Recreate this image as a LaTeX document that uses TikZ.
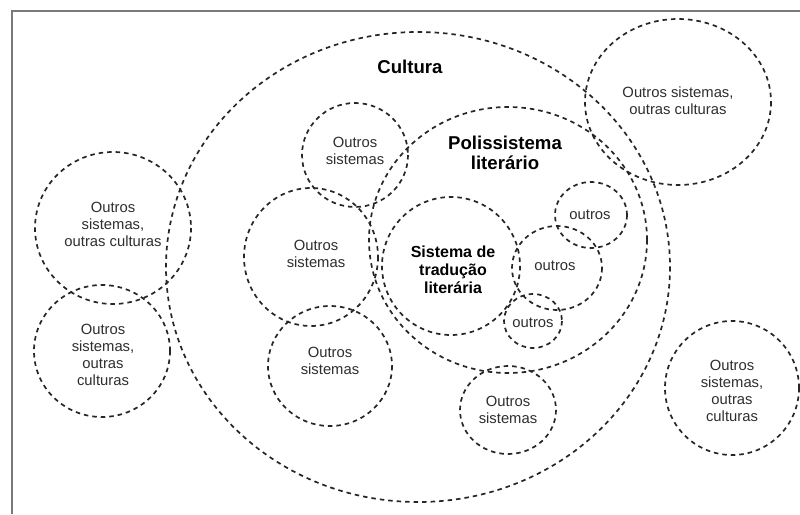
\documentclass[tikz,border=0pt]{standalone}
\usepackage{fontspec}
\setmainfont{Liberation Sans}
\definecolor{txt}{HTML}{2E2E2E}
\definecolor{framec}{HTML}{7A7A7A}
\tikzset{
  dcirc/.style={draw=black!85, line width=1.7pt, dash pattern=on 4.5pt off 4pt},
  lbl/.style={align=center, inner sep=0pt, text=txt, font=\fontsize{14.8}{17}\selectfont},
  blbl/.style={align=center, inner sep=0pt, text=black, font=\bfseries\fontsize{16}{18}\selectfont},
  big/.style={align=center, inner sep=0pt, text=black, font=\bfseries\fontsize{18.6}{20}\selectfont}
}
\begin{document}
\begin{tikzpicture}[x=1pt,y=-1pt]
\useasboundingbox (0,0) rectangle (800,514);
\fill[white] (0,0) rectangle (800,514);
% frame (top and left edges visible)
\draw[framec, line width=2pt] (11.5,514) -- (11.5,10.5) -- (800,10.5);

% circles
\draw[dcirc] (418,267) ellipse [x radius=252, y radius=235];   % Cultura
\draw[dcirc] (508,240) ellipse [x radius=139, y radius=133];   % Polissistema
\draw[dcirc] (451,266) ellipse [x radius=69, y radius=69];     % Sistema de traducao
\draw[dcirc] (591,215) ellipse [x radius=36, y radius=33];     % outros top
\draw[dcirc] (557,268) ellipse [x radius=45, y radius=42];     % outros middle
\draw[dcirc] (533,321) ellipse [x radius=29, y radius=27];     % outros bottom
\draw[dcirc] (355,155) ellipse [x radius=53, y radius=52];     % Outros sistemas top
\draw[dcirc] (311,257) ellipse [x radius=67, y radius=69];     % Outros sistemas mid
\draw[dcirc] (330,366) ellipse [x radius=62, y radius=60];     % Outros sistemas low
\draw[dcirc] (508,410) ellipse [x radius=48, y radius=44];     % Outros sistemas bottom
\draw[dcirc] (678,102) ellipse [x radius=93, y radius=83];     % top right culturas
\draw[dcirc] (113,228) ellipse [x radius=78, y radius=76];     % left top culturas
\draw[dcirc] (102,351) ellipse [x radius=68, y radius=66];     % left bottom culturas
\draw[dcirc] (732,388) ellipse [x radius=67, y radius=67];     % right bottom culturas

% labels
\node[big] (cult) at (410,67) {Cultura};
\node[big] (poli) at (505,153) {Polissistema\\literário};
\node[blbl] (trad) at (453,270) {Sistema de\\tradução\\literária};
\node[lbl] (o1) at (590,215) {outros};
\node[lbl] (o2) at (555,266) {outros};
\node[lbl] (o3) at (533,323) {outros};
\node[lbl] (s1) at (355,151) {Outros\\sistemas};
\node[lbl] (s2) at (316,254) {Outros\\sistemas};
\node[lbl] (s3) at (330,361) {Outros\\sistemas};
\node[lbl] (s4) at (508,410) {Outros\\sistemas};
\node[lbl] (c1) at (678,101) {Outros sistemas,\\outras culturas};
\node[lbl] (c2) at (113,224) {Outros\\sistemas,\\outras culturas};
\node[lbl] (c3) at (103,355) {Outros\\sistemas,\\outras\\culturas};
\node[lbl] (c4) at (732,391) {Outros\\sistemas,\\outras\\culturas};
\end{tikzpicture}
\end{document}
